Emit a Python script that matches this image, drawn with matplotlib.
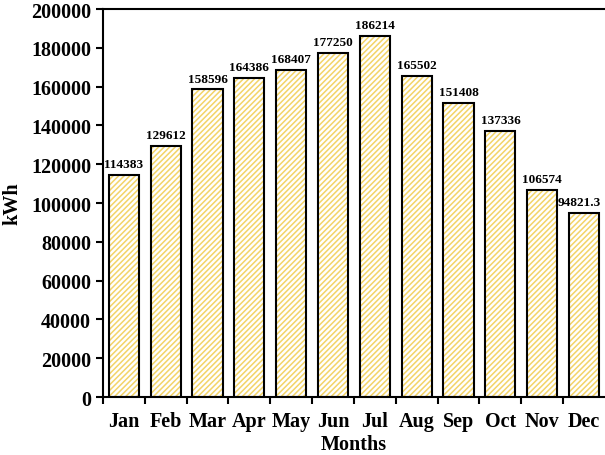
import numpy as np
import matplotlib.pyplot as plt

plt.rcParams['font.family'] = ['Liberation Serif', 'DejaVu Serif']
plt.rcParams['font.weight'] = 'bold'
plt.rcParams['hatch.linewidth'] = 1.1

months = ['Jan', 'Feb', 'Mar', 'Apr', 'May', 'Jun', 'Jul', 'Aug', 'Sep', 'Oct', 'Nov', 'Dec']
energy = [114383, 129612, 158596, 164386, 168407, 177250, 186214, 165502, 151408, 137336, 106574, 94821.3]
labels = ['114383', '129612', '158596', '164386', '168407', '177250', '186214', '165502',
          '151408', '137336', '106574', '94821.3']

fig = plt.figure(figsize=(6.05, 4.56), dpi=100)
ax = fig.add_axes([0.170, 0.127, 0.830, 0.851])

x = np.arange(len(months))
ax.bar(x, energy, width=0.72, color='white', edgecolor='#f3d468', hatch='//////', linewidth=0)
ax.bar(x, energy, width=0.72, color='none', edgecolor='black', linewidth=1.5)

for xi, v, lab in zip(x, energy, labels):
    # keep the last label inside the figure
    shift = -0.12 if xi == x[-1] else 0
    ax.text(xi + shift, v + 2500, lab, ha='center', va='bottom', fontsize=9.5, fontweight='bold')

ax.set_xlim(-0.5, len(months) - 0.5)
ax.set_ylim(0, 200000)
ax.set_yticks(np.arange(0, 200001, 20000))
ax.tick_params(axis='y', labelsize=14.5, width=1.5, length=5, direction='out')
ax.set_xticks(x)
ax.set_xticklabels(months, fontsize=14.5)
ax.tick_params(axis='x', length=0, pad=10)
ax.set_xticks(np.arange(-0.5, len(months) - 1, 1), minor=True)
ax.tick_params(axis='x', which='minor', length=5, width=1.5, direction='out')

for s in ax.spines.values():
    s.set_linewidth(1.5)
ax.spines['right'].set_visible(False)

ax.set_ylabel('kWh', fontsize=14.5, fontweight='bold', labelpad=6)
ax.set_xlabel('Months', fontsize=14.5, fontweight='bold', labelpad=2)

plt.savefig('out.png', dpi=100)
